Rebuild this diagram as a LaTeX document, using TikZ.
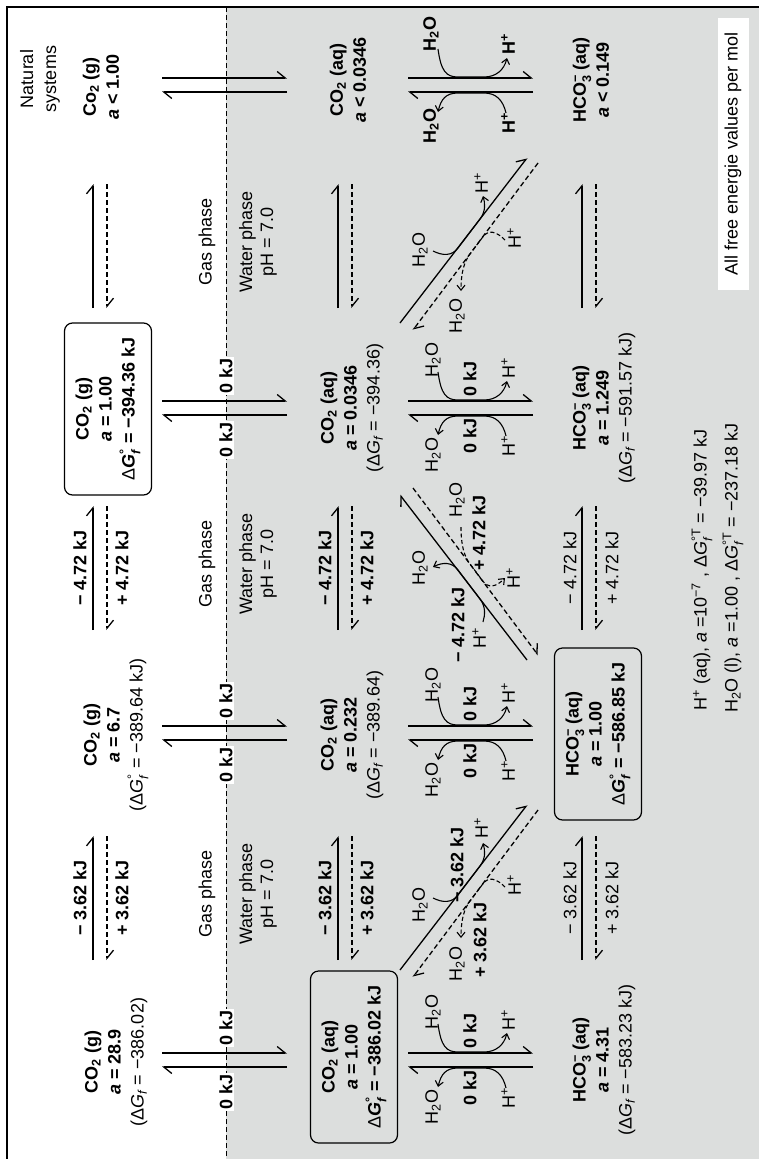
\documentclass[tikz,border=0pt]{standalone}
\usepackage{fontspec}
\setmainfont{Liberation Sans}
\usepackage{amsmath}
\usetikzlibrary{arrows.meta}
\definecolor{waterbg}{RGB}{220,222,221}
\newcommand{\ctwo}{CO\textsubscript{2}}
\newcommand{\hcoo}{HCO$^{\text{−}}_{\text{3}}$}
\newcommand{\hto}{H\textsubscript{2}O}
\newcommand{\hpl}{H\textsuperscript{+}}
\newcommand{\dgf}{Δ\textit{G}$_{\textit{f}}$}
\newcommand{\dgof}{Δ\textit{G}$^{\text{°}}_{\textit{f}}$}
\newcommand{\bdgof}{{\mdseries Δ}\textit{G}$^{\text{°}}_{\textit{f}}$}
\newcommand{\dgotf}{Δ\textit{G}$^{\text{°T}}_{\textit{f}}$}
\begin{document}
\begin{tikzpicture}[x=1pt,y=-1pt,
  txt/.style={rotate=90,inner sep=0pt,align=center,font=\fontsize{18}{23}\selectfont},
  btxt/.style={txt,font=\fontsize{18}{23}\selectfont\bfseries},
  sbox/.style={txt,draw,line width=1.2pt,rounded corners=8pt,minimum width=172pt,minimum height=87pt},
  harp/.style={line width=1.3pt,-{Straight Barb[left,length=8pt,width=13pt]}},
  dharp/.style={harp,dash pattern=on 5pt off 3pt},
  curv/.style={line width=1.1pt,-{Straight Barb[length=5pt,width=8pt]}},
  dcurv/.style={curv,dash pattern=on 4pt off 2.5pt},
  zero/.style={btxt,fill=white,inner sep=1.5pt},
]
\useasboundingbox (0,0) rectangle (759,1159);
\fill[waterbg] (226,7) rectangle (759,1159);
\draw[line width=1.6pt] (7,1159) -- (7,7) -- (759,7);
\draw[line width=1pt,dash pattern=on 5pt off 3pt] (226,7) -- (226,1159);

% ---------- species ----------
\node[txt] (g1) at (116,1062) {\textbf{\ctwo\ (g)}\\\textbf{\textit{a} = 28.9}\\(\dgf\ = −386.02)};
\node[txt] (g2) at (116,735) {\textbf{\ctwo\ (g)}\\\textbf{\textit{a} = 6.7}\\(\dgof\ = −389.64 kJ)};
\node[sbox] (g3) at (108,409) {\textbf{\ctwo\ (g)}\\\textbf{\textit{a} = 1.00}\\\textbf{\bdgof\ = −394.36 kJ}};
\node[txt] (nat) at (40,79) {Natural\\systems};
\node[txt] (g4) at (101,87) {\textbf{Co\textsubscript{2} (g)}\\\textbf{\textit{a} < 1.00}};

\node[sbox] (q1) at (354,1057) {\textbf{\ctwo\ (aq)}\\\textbf{\textit{a} = 1.00}\\\textbf{\bdgof\ = −386.02 kJ}};
\node[txt] (q2) at (352,735) {\textbf{\ctwo\ (aq)}\\\textbf{\textit{a} = 0.232}\\(\dgf\ = −389.64)};
\node[txt] (q3) at (352,408) {\textbf{\ctwo\ (aq)}\\\textbf{\textit{a} = 0.0346}\\(\dgf\ = −394.36)};
\node[txt] (q4) at (348,80) {\textbf{\ctwo\ (aq)}\\\textbf{\textit{a} < 0.0346}};

\node[txt] (h1) at (604,1060) {\textbf{\hcoo\ (aq)}\\\textbf{\textit{a} = 4.31}\\(\dgf\ = −583.23 kJ)};
\node[sbox] (h2) at (598,734) {\textbf{\hcoo\ (aq)}\\\textbf{\textit{a} = 1.00}\\\textbf{\bdgof\ = −586.85 kJ}};
\node[txt] (h3) at (604,408) {\textbf{\hcoo\ (aq)}\\\textbf{\textit{a} = 1.249}\\(\dgf\ = −591.57 kJ)};
\node[txt] (h4) at (591,80) {\textbf{\hcoo\ (aq)}\\\textbf{\textit{a} < 0.149}};

% ---------- vertical equilibria (gas-aq, aq-HCO3) ----------
\foreach \cc/\nn in {1060/1,733/2,408/3,85/4}{
  \coordinate (ga\nn) at (162,\cc-7);
  \coordinate (gb\nn) at (287,\cc-7);
  \coordinate (gc\nn) at (287,\cc+7);
  \coordinate (gd\nn) at (162,\cc+7);
  \draw[harp] (ga\nn) -- (gb\nn);
  \draw[harp] (gc\nn) -- (gd\nn);
  \coordinate (qa\nn) at (408,\cc-7);
  \coordinate (qb\nn) at (533,\cc-7);
  \coordinate (qc\nn) at (533,\cc+7);
  \coordinate (qd\nn) at (408,\cc+7);
  \draw[harp] (qa\nn) -- (qb\nn);
  \draw[harp] (qc\nn) -- (qd\nn);
  \draw[curv] (438,\cc-36) .. controls (441,\cc-14) and (446,\cc-8) .. (458,\cc-8) -- (484,\cc-8) .. controls (496,\cc-8) and (504,\cc-15) .. (507,\cc-27);
  \draw[curv] (506,\cc+28) .. controls (503,\cc+15) and (496,\cc+8) .. (484,\cc+8) -- (458,\cc+8) .. controls (446,\cc+8) and (441,\cc+14) .. (438,\cc+27);
}
\foreach \cc/\nn in {1060/1,733/2,408/3}{
  \node[zero] (zu\nn) at (226,\cc-32) {0 kJ};
  \node[zero] (zl\nn) at (226,\cc+32) {0 kJ};
  \node[txt] (wu\nn) at (433,\cc-48) {\hto};
  \node[txt] (pu\nn) at (508,\cc-40) {\hpl};
  \node[btxt] (ku\nn) at (470,\cc-29) {0 kJ};
  \node[txt] (wl\nn) at (433,\cc+47) {\hto};
  \node[txt] (pl\nn) at (508,\cc+38) {\hpl};
  \node[btxt] (kl\nn) at (470,\cc+28) {0 kJ};
}
\node[btxt] (wu4) at (431,34) {\hto};
\node[btxt] (pu4) at (508,44) {\hpl};
\node[btxt] (wl4) at (431,126) {\hto};
\node[btxt] (pl4) at (508,123) {\hpl};

% ---------- horizontal equilibria between columns ----------
\foreach \mm/\kk in {898/1,568/2,246/3}{
  \foreach \xs/\rw in {93/g,338/q,582/h}{
    \coordinate (s\rw\kk-a) at (\xs,\mm+62);
    \coordinate (s\rw\kk-b) at (\xs,\mm-62);
    \coordinate (d\rw\kk-a) at (\xs+14,\mm-62);
    \coordinate (d\rw\kk-b) at (\xs+14,\mm+62);
    \draw[harp] (s\rw\kk-a) -- (s\rw\kk-b);
    \draw[dharp] (d\rw\kk-a) -- (d\rw\kk-b);
  }
  \node[txt] (gp\kk) at (207,\mm-4) {Gas phase};
  \node[txt,font=\fontsize{18}{21}\selectfont] (wp\kk) at (258,\mm-4) {Water phase\\pH = 7.0};
}
\node[btxt] (lg1m) at (80,898) {− 3.62 kJ};
\node[btxt] (lg1p) at (122,898) {+ 3.62 kJ};
\node[btxt] (lq1m) at (325,898) {− 3.62 kJ};
\node[btxt] (lq1p) at (367,898) {+ 3.62 kJ};
\node[txt] (lh1m) at (570,898) {− 3.62 kJ};
\node[txt] (lh1p) at (612,898) {+ 3.62 kJ};
\node[btxt] (lg2m) at (80,568) {− 4.72 kJ};
\node[btxt] (lg2p) at (122,568) {+ 4.72 kJ};
\node[btxt] (lq2m) at (325,568) {− 4.72 kJ};
\node[btxt] (lq2p) at (367,568) {+ 4.72 kJ};
\node[txt] (lh2m) at (570,568) {− 4.72 kJ};
\node[txt] (lh2p) at (612,568) {+ 4.72 kJ};

% ---------- diagonal A (col1 aq <-> col2 HCO3) ----------
\coordinate (As1) at (400,970); \coordinate (As2) at (527,805);
\coordinate (Ad1) at (538,810); \coordinate (Ad2) at (413,977);
\draw[harp] (As1) -- (As2);
\draw[dharp] (Ad1) -- (Ad2);
\draw[curv] (433,898) .. controls (443,903) and (452,903) .. (458,895) -- (480,866) .. controls (486,858) and (485,850) .. (483,843);
\draw[dcurv] (505,887) .. controls (496,878) and (488,876) .. (482,885) -- (470,901) .. controls (464,909) and (461,920) .. (461,938);
\node[txt] (Aw1) at (420,905) {\hto};
\node[btxt] (Ak1) at (457,865) {− 3.62 kJ};
\node[txt] (Ap1) at (481,828) {\hpl};
\node[txt] (Ap2) at (514,885) {\hpl};
\node[btxt] (Ak2) at (480,940) {+ 3.62 kJ};
\node[txt] (Aw2) at (457,964) {\hto};

% ---------- diagonal B (col2 HCO3 <-> col3 aq) ----------
\coordinate (Bs1) at (527,660); \coordinate (Bs2) at (400,495);
\coordinate (Bd1) at (413,488); \coordinate (Bd2) at (538,655);
\draw[harp] (Bs1) -- (Bs2);
\draw[dharp] (Bd1) -- (Bd2);
\draw[curv] (483,622) .. controls (485,615) and (486,607) .. (480,599) -- (458,570) .. controls (452,562) and (443,562) .. (433,567);
\draw[dcurv] (461,527) .. controls (461,545) and (464,556) .. (470,564) -- (482,580) .. controls (488,589) and (496,587) .. (505,578);
\node[txt] (Bw1) at (420,568) {\hto};
\node[btxt] (Bk1) at (458,625) {− 4.72 kJ};
\node[txt] (Bp1) at (479,638) {\hpl};
\node[txt] (Bw2) at (457,500) {\hto};
\node[btxt] (Bk2) at (479,533) {+ 4.72 kJ};
\node[txt] (Bp2) at (513,578) {\hpl};

% ---------- diagonal C (col3 aq <-> col4 HCO3) ----------
\coordinate (Cs1) at (400,323); \coordinate (Cs2) at (527,158);
\coordinate (Cd1) at (538,163); \coordinate (Cd2) at (413,330);
\draw[harp] (Cs1) -- (Cs2);
\draw[dharp] (Cd1) -- (Cd2);
\draw[curv] (433,251) .. controls (443,256) and (452,256) .. (458,248) -- (480,219) .. controls (486,211) and (485,203) .. (483,196);
\draw[dcurv] (505,240) .. controls (496,231) and (488,229) .. (482,238) -- (470,254) .. controls (464,262) and (461,273) .. (461,291);
\node[txt] (Cw1) at (420,250) {\hto};
\node[txt] (Cp1) at (481,183) {\hpl};
\node[txt] (Cp2) at (514,238) {\hpl};
\node[txt] (Cw2) at (457,316) {\hto};

% ---------- notes ----------
\node[txt,anchor=west] (n1) at (702,711) {\hpl\ (aq), \textit{a} =10$^{\text{−7}}$ , \dgotf\ = −39.97 kJ};
\node[txt,anchor=west] (n2) at (733,713) {\hto\ (l), \textit{a} =1.00 , \dgotf\ = −237.18 kJ};
\node[txt,fill=white,minimum width=272pt,minimum height=31pt] (allfree) at (733,154) {All free energie values per mol};
\end{tikzpicture}
\end{document}
